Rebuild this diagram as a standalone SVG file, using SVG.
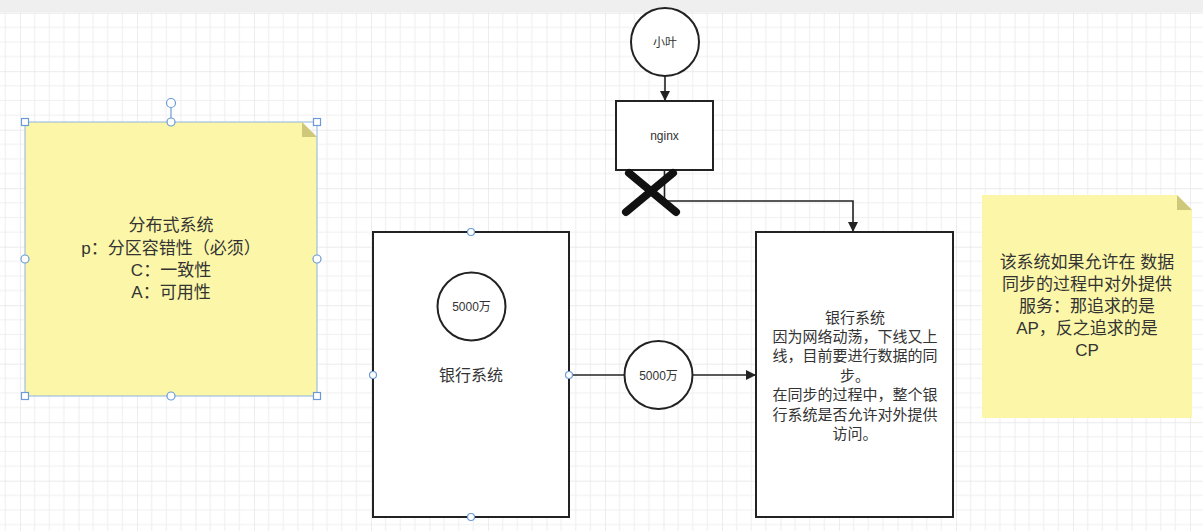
<svg xmlns="http://www.w3.org/2000/svg" width="1203" height="531" viewBox="0 0 1203 531">
<style>
.t{font-family:"Liberation Sans","Noto Sans CJK SC",sans-serif;fill:#333;text-anchor:middle}
.shape{fill:#fff;stroke:#222;stroke-width:2}
.note{fill:#fcf7a8}
.fold{fill:#cfc77a}
.edge{fill:none;stroke:#222;stroke-width:1.6}
.sel{fill:#fff;stroke:#6b9bd6;stroke-width:1.2}
</style>
<defs>
<pattern id="grid" patternUnits="userSpaceOnUse" x="20" y="12.7" width="58.5" height="58.5">
<path d="M14.625 0V58.5M29.25 0V58.5M43.875 0V58.5M0 14.625H58.5M0 29.25H58.5M0 43.875H58.5" stroke="#f0f0f0" stroke-width="1.2" fill="none"/>
<path d="M0 0V58.5M0 0H58.5" stroke="#e5e5e5" stroke-width="1.4" fill="none"/>
</pattern>
<marker id="arr" viewBox="0 0 10 10" refX="10" refY="5" markerWidth="10" markerHeight="10" markerUnits="userSpaceOnUse" orient="auto">
<path d="M0 0L10 5L0 10Z" fill="#222"/>
</marker>
</defs>
<rect width="1203" height="531" fill="#fff"/>
<rect width="1203" height="531" fill="url(#grid)"/>
<rect width="1203" height="12.5" fill="#efefef"/>

<g id="note-cap">
<path class="note" d="M25 122H302L317 137V396H25Z"/>
<path class="fold" d="M302 122L317 137H302Z"/>
<text class="t" font-size="17" x="171" y="231">分布式系统</text>
<text class="t" font-size="17" x="171" y="254">p：分区容错性（必须）</text>
<text class="t" font-size="17" x="171" y="276">C：一致性</text>
<text class="t" font-size="17" x="171" y="298">A：可用性</text>
<rect x="25" y="122" width="292" height="274" fill="none" stroke="#8fb3e0" stroke-width="1"/>
<line x1="171" y1="103" x2="171" y2="122" stroke="#6b9bd6" stroke-width="1.2"/>
<circle class="sel" cx="171" cy="103" r="4.5"/>
<circle class="sel" cx="171" cy="122" r="4"/>
<circle class="sel" cx="171" cy="396" r="4"/>
<circle class="sel" cx="25" cy="259" r="4"/>
<circle class="sel" cx="317" cy="259" r="4"/>
<rect class="sel" x="21.5" y="118.5" width="7" height="7"/>
<rect class="sel" x="313.5" y="118.5" width="7" height="7"/>
<rect class="sel" x="21.5" y="392.5" width="7" height="7"/>
<rect class="sel" x="313.5" y="392.5" width="7" height="7"/>
</g>

<g id="xiaoye">
<circle class="shape" cx="665" cy="42" r="34"/>
<text class="t" font-size="12" x="665" y="46.5">小叶</text>
</g>

<g id="nginx">
<rect class="shape" x="616" y="101" width="97" height="69"/>
<text class="t" font-size="12" x="664.5" y="140">nginx</text>
</g>

<g id="bank-left">
<rect class="shape" x="373" y="232" width="196" height="285"/>
<text class="t" font-size="16" x="471" y="381">银行系统</text>
<circle class="sel" cx="471" cy="232" r="3.5"/>
<circle class="sel" cx="471" cy="517" r="3.5"/>
<circle class="sel" cx="373" cy="375" r="3.5"/>
</g>

<g id="money-inner">
<circle class="shape" cx="471.5" cy="306.5" r="34"/>
<text class="t" font-size="12" x="471.5" y="311">5000万</text>
</g>

<g id="bank-right">
<rect class="shape" x="756" y="232" width="197" height="285"/>
<text class="t" font-size="15" x="855" y="322.5">银行系统</text>
<text class="t" font-size="15" x="855" y="342">因为网络动荡，下线又上</text>
<text class="t" font-size="15" x="855" y="361.3">线，目前要进行数据的同</text>
<text class="t" font-size="15" x="855" y="380.7">步。</text>
<text class="t" font-size="15" x="855" y="400.1">在同步的过程中，整个银</text>
<text class="t" font-size="15" x="855" y="419.5">行系统是否允许对外提供</text>
<text class="t" font-size="15" x="855" y="438.9">访问。</text>
</g>

<g id="note-ap">
<path class="note" d="M982 195H1177L1192 210V418H982Z"/>
<path class="fold" d="M1177 195L1192 210H1177Z"/>
<text class="t" font-size="17" x="1087" y="268">该系统如果允许在 数据</text>
<text class="t" font-size="17" x="1087" y="290">同步的过程中对外提供</text>
<text class="t" font-size="17" x="1087" y="312">服务：那追求的是</text>
<text class="t" font-size="17" x="1087" y="334">AP，反之追求的是</text>
<text class="t" font-size="17" x="1087" y="356">CP</text>
</g>

<g id="connectors">
<line class="edge" x1="665" y1="76" x2="665" y2="101" marker-end="url(#arr)"/>
<path class="edge" d="M664.5 170V201H853V232" marker-end="url(#arr)"/>
<line class="edge" x1="569" y1="375" x2="624.5" y2="375"/>
<line class="edge" x1="692.5" y1="375" x2="756" y2="375" marker-end="url(#arr)"/>
<circle class="sel" cx="569" cy="375" r="3.5"/>
</g>

<g id="money-transfer">
<circle class="shape" cx="658.5" cy="375" r="34"/>
<text class="t" font-size="12" x="658.5" y="379.5">5000万</text>
</g>

<g id="cross">
<path d="M629 173L676 212M673 173L626 212" stroke="#111" stroke-width="8" stroke-linecap="round" fill="none"/>
</g>
</svg>
